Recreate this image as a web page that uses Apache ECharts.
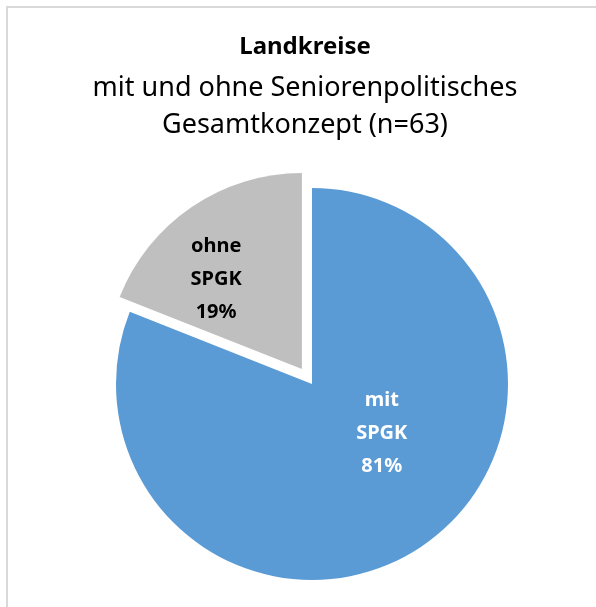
<!DOCTYPE html>
<html><head><meta charset="utf-8">
<script src="https://cdn.jsdelivr.net/npm/echarts@6/dist/echarts.min.js"></script>
<style>html,body{margin:0;padding:0;background:#fff}#c{width:596px;height:607px}</style>
</head><body><div id="c"></div>
<script>
var categories = ['mit\nSPGK', 'ohne\nSPGK'];
var values = [81, 19];
var colors = ['#5B9BD5', '#BFBFBF'];
var titleMain = 'Landkreise';
var titleSub = 'mit und ohne Seniorenpolitisches\nGesamtkonzept (n=63)';

var FONT = 'Noto Sans';
var chart = echarts.init(document.getElementById('c'), null, {renderer: 'canvas'});
var labelShift = [[13, -34], [-29, -6]];
chart.setOption({
  animation: false,
  graphic: [{
    type: 'rect', shape: {x: 7, y: 7, width: 620, height: 620},
    style: {fill: 'none', stroke: '#D9D9D9', lineWidth: 2}, silent: true
  }],
  title: {
    text: titleMain, subtext: titleSub, left: 300, top: 30, itemGap: 11,
    textAlign: 'center',
    textStyle: {fontFamily: FONT, fontWeight: 'bold', fontSize: 24, color: '#000'},
    subtextStyle: {fontFamily: FONT, fontSize: 27, color: '#000', lineHeight: 37, align: 'center'}
  },
  series: [{
    type: 'pie', center: [312, 384], radius: [0, 196], startAngle: 90, clockwise: true,
    selectedMode: 'multiple', selectedOffset: 18,
    label: {position: 'inside', formatter: '{b}\n{d}%', fontFamily: FONT, fontWeight: 'bold', fontSize: 20, lineHeight: 33, align: 'center'},
    labelLayout: function (p) { return {dx: labelShift[p.dataIndex][0], dy: labelShift[p.dataIndex][1]}; },
    data: categories.map(function (c, i) {
      return {name: c, value: values[i], selected: i === 1,
        itemStyle: {color: colors[i]},
        label: {color: i === 0 ? '#fff' : '#000'}};
    }),
    emphasis: {disabled: true}
  }]
});
</script></body></html>
